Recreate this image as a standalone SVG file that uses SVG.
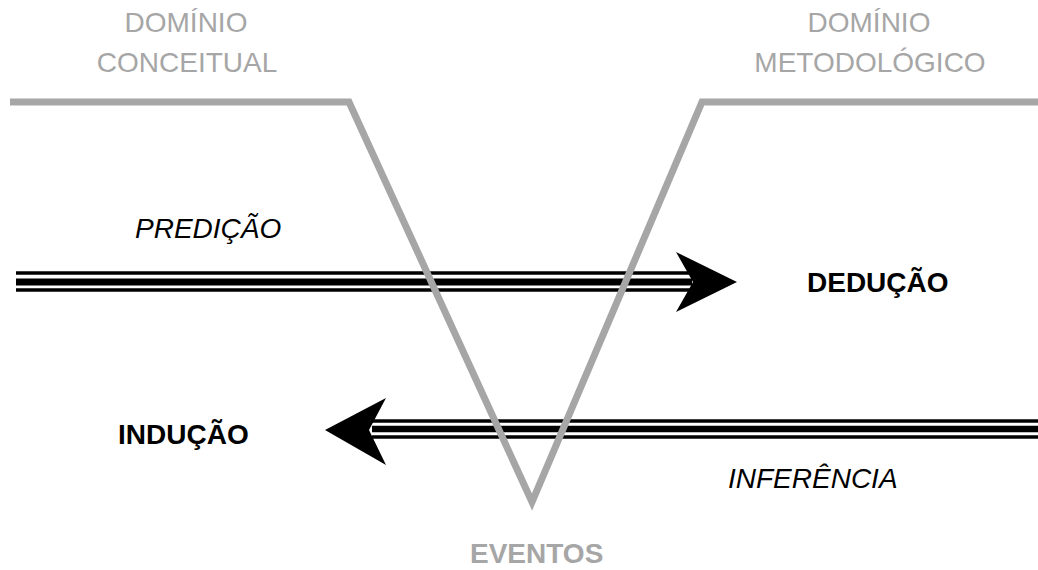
<svg xmlns="http://www.w3.org/2000/svg" width="1038" height="570" viewBox="0 0 1038 570">
  <style>
    .gray { font-family: "Liberation Sans", Arial, sans-serif; font-size: 28px; fill: #a6a6a6; text-anchor: middle; }
    .ital { font-family: "Liberation Sans", Arial, sans-serif; font-size: 28px; font-style: italic; fill: #000; }
    .bold { font-family: "Liberation Sans", Arial, sans-serif; font-size: 28px; font-weight: bold; fill: #000; }
    .ln { stroke: #000; fill: none; }
    .v { stroke: #a6a6a6; stroke-width: 7; fill: none; stroke-linejoin: miter; }
  </style>
  <rect width="1038" height="570" fill="#fff"/>
  <g id="connectors">
    <g id="arrow-deducao">
      <line class="ln" x1="16" y1="273" x2="692" y2="273" stroke-width="3.4"/>
      <line class="ln" x1="16" y1="282" x2="692" y2="282" stroke-width="7.2"/>
      <line class="ln" x1="16" y1="290" x2="692" y2="290" stroke-width="3.4"/>
      <polygon points="737,282 676,252 693,282 676,312" fill="#000"/>
    </g>
    <g id="arrow-inducao">
      <line class="ln" x1="372" y1="421" x2="1038" y2="421" stroke-width="3.4"/>
      <line class="ln" x1="372" y1="429" x2="1038" y2="429" stroke-width="6.4"/>
      <line class="ln" x1="372" y1="437" x2="1038" y2="437" stroke-width="3.6"/>
      <polygon points="325,430 386,398 369,430 386,465" fill="#000"/>
    </g>
  </g>
  <polyline class="v" points="10,102 349,102 532,502 702,102 1038,102"/>
  <g id="dominio-conceitual">
    <text class="gray" x="186" y="32">DOMÍNIO</text>
    <text class="gray" x="187" y="72">CONCEITUAL</text>
  </g>
  <g id="dominio-metodologico">
    <text class="gray" x="869" y="32">DOMÍNIO</text>
    <text class="gray" x="870" y="72">METODOLÓGICO</text>
  </g>
  <g id="predicao">
    <text class="ital" x="135" y="238">PREDIÇÃO</text>
  </g>
  <g id="deducao">
    <text class="bold" x="807" y="292" font-size="29">DEDUÇÃO</text>
  </g>
  <g id="inducao">
    <text class="bold" x="118" y="444">INDUÇÃO</text>
  </g>
  <g id="inferencia">
    <text class="ital" x="728" y="488" font-size="29">INFERÊNCIA</text>
  </g>
  <g id="eventos">
    <text class="bold" x="470" y="563" style="fill:#a6a6a6">EVENTOS</text>
  </g>
</svg>
